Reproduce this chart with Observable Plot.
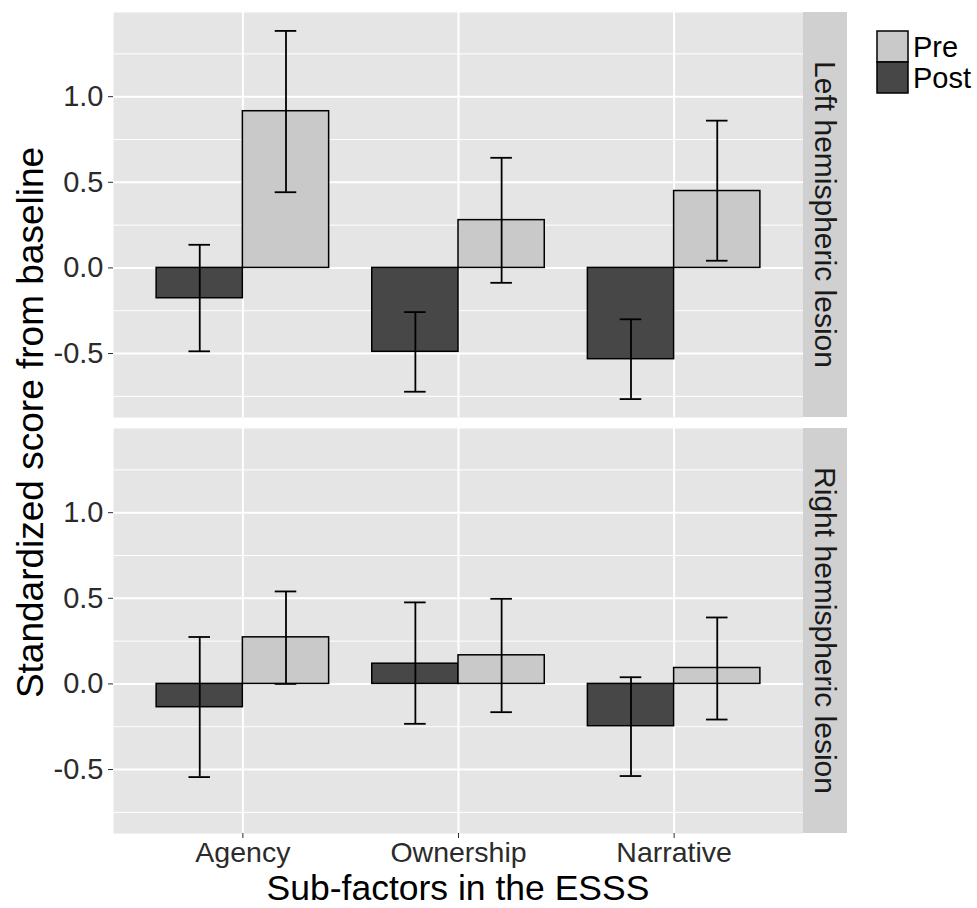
<!DOCTYPE html>
<html>
<head>
<meta charset="utf-8">
<script src="https://cdn.jsdelivr.net/npm/d3@7"></script>
<script src="https://cdn.jsdelivr.net/npm/@observablehq/plot@0.6"></script>
<style>
  html, body { margin: 0; padding: 0; background: #ffffff; }
  #chart { position: relative; width: 977px; height: 908px; }
</style>
</head>
<body>
<div id="chart"></div>
<script>
// ---- data ----
const categories = ["Agency", "Ownership", "Narrative"];
const lesions = ["Left hemispheric lesion", "Right hemispheric lesion"];
const groups = ["Post", "Pre"];          // dodge order (left, right)
const legendOrder = ["Pre", "Post"];
const groupFills = ["#474747", "#c9c9c9"];

const leftPost   = [-0.177, -0.490, -0.533];
const leftPostLo = [-0.487, -0.723, -0.766];
const leftPostHi = [ 0.135, -0.258, -0.300];
const leftPre    = [ 0.915,  0.279,  0.449];
const leftPreLo  = [ 0.442, -0.087,  0.042];
const leftPreHi  = [ 1.384,  0.643,  0.860];

const rightPost   = [-0.136,  0.118, -0.247];
const rightPostLo = [-0.544, -0.233, -0.538];
const rightPostHi = [ 0.274,  0.476,  0.039];
const rightPre    = [ 0.272,  0.167,  0.093];
const rightPreLo  = [ 0.000, -0.165, -0.208];
const rightPreHi  = [ 0.540,  0.497,  0.388];

const yMajor = [-0.5, 0.0, 0.5, 1.0];
const yMinor = [-0.75, -0.25, 0.25, 0.75, 1.25];

const xTitle = "Sub-factors in the ESSS";
const yTitle = "Standardized score from baseline";

// ---- build table ----
const series = {
  "Left hemispheric lesion": {
    Post: [leftPost, leftPostLo, leftPostHi],
    Pre: [leftPre, leftPreLo, leftPreHi]
  },
  "Right hemispheric lesion": {
    Post: [rightPost, rightPostLo, rightPostHi],
    Pre: [rightPre, rightPreLo, rightPreHi]
  }
};
const barW = 0.4, capHalf = 0.05;
const rows = [];
for (const lesion of lesions) {
  groups.forEach((g, gi) => {
    const [v, lo, hi] = series[lesion][g];
    categories.forEach((c, ci) => {
      const x1 = ci + 1 + (gi === 0 ? -barW : 0);
      rows.push({lesion, category: c, group: g, x1, x2: x1 + barW, xc: x1 + barW / 2,
                 value: v[ci], lo: lo[ci], hi: hi[ci]});
    });
  });
}
const allVals = rows.flatMap(d => [d.lo, d.hi, d.value, 0]);
const [ymin, ymax] = d3.extent(allVals);
const pad = (ymax - ymin) * 0.05;
const fillOf = g => groupFills[groups.indexOf(g)];

const FONT = "'Liberation Sans', Arial, Helvetica, sans-serif";
const TXT = "#2b2b2b";

const plot = Plot.plot({
  width: 977,
  height: 908,
  marginLeft: 113,
  marginRight: 174,
  marginTop: 11,
  marginBottom: 75,
  style: {fontFamily: FONT, background: "#ffffff", color: TXT, overflow: "visible"},
  x: {type: "linear", domain: [0.4, categories.length + 0.6]},
  y: {domain: [ymin - pad, ymax + pad]},
  fy: {domain: lesions, paddingInner: 0.0265, paddingOuter: 0, axis: null},
  marks: [
    Plot.frame({fill: "#e5e5e5", stroke: "none"}),
    Plot.ruleY(yMinor, {stroke: "#ffffff", strokeWidth: 1}),
    Plot.ruleY(yMajor, {stroke: "#ffffff", strokeWidth: 2}),
    Plot.ruleX(categories.map((c, i) => i + 1), {stroke: "#ffffff", strokeWidth: 2}),
    Plot.rect(rows, {x1: "x1", x2: "x2", y1: 0, y2: "value", fy: "lesion",
                     fill: d => fillOf(d.group), stroke: "#000000", strokeWidth: 1.5}),
    Plot.ruleX(rows, {x: "xc", y1: "lo", y2: "hi", fy: "lesion", stroke: "#000000", strokeWidth: 1.8}),
    Plot.ruleY(rows, {y: "hi", x1: d => d.xc - capHalf, x2: d => d.xc + capHalf, fy: "lesion", stroke: "#000000", strokeWidth: 1.8}),
    Plot.ruleY(rows, {y: "lo", x1: d => d.xc - capHalf, x2: d => d.xc + capHalf, fy: "lesion", stroke: "#000000", strokeWidth: 1.8}),
    Plot.axisY(yMajor, {tickSize: 5, tickPadding: 5, fontSize: 29, stroke: TXT, fill: TXT,
                        tickFormat: d => d.toFixed(1), label: null}),
    Plot.axisX(categories.map((c, i) => i + 1), {tickSize: 5, tickPadding: 3, fontSize: 28.5, stroke: TXT, fill: TXT,
                        tickFormat: d => categories[d - 1], label: null})
  ]
});

document.getElementById("chart").appendChild(plot);

// ---- strips, titles, legend (positions from the plot's own scales) ----
const svg = d3.select(plot);
const xs = plot.scale("x");
const fys = plot.scale("fy");
const panelLeft = xs.range[0], panelRight = xs.range[1];
const stripW = 44;
const bw = fys.bandwidth;

lesions.forEach(l => {
  const top = fys.apply(l);
  svg.append("rect")
    .attr("x", panelRight).attr("y", top)
    .attr("width", stripW).attr("height", bw)
    .attr("fill", "#d0d0d0");
  svg.append("text")
    .attr("transform", `translate(${panelRight + stripW / 2},${top + bw / 2}) rotate(90)`)
    .attr("text-anchor", "middle")
    .attr("dy", "0.35em")
    .attr("font-family", FONT)
    .attr("font-size", 30)
    .attr("fill", "#1a1a1a")
    .text(l);
});

const firstTop = fys.apply(lesions[0]);
const lastBottom = fys.apply(lesions[lesions.length - 1]) + bw;

svg.append("text")
  .attr("x", (panelLeft + panelRight) / 2)
  .attr("y", 900)
  .attr("text-anchor", "middle")
  .attr("font-family", FONT)
  .attr("font-size", 35.5)
  .attr("fill", "#000000")
  .text(xTitle);

svg.append("text")
  .attr("transform", `translate(43,${(firstTop + lastBottom) / 2}) rotate(-90)`)
  .attr("text-anchor", "middle")
  .attr("font-family", FONT)
  .attr("font-size", 37)
  .attr("fill", "#000000")
  .text(yTitle);

// legend
const keyX = panelRight + stripW + 30, keyY0 = 31, keyS = 31;
legendOrder.forEach((g, i) => {
  const y = keyY0 + i * keyS;
  svg.append("rect")
    .attr("x", keyX).attr("y", y)
    .attr("width", keyS).attr("height", keyS)
    .attr("fill", fillOf(g)).attr("stroke", "#000000").attr("stroke-width", 1.5);
  svg.append("text")
    .attr("x", keyX + keyS + 5).attr("y", y + keyS / 2)
    .attr("dy", "0.35em")
    .attr("text-anchor", "start")
    .attr("font-family", FONT)
    .attr("font-size", 29)
    .attr("fill", "#000000")
    .text(g);
});
</script>
</body>
</html>
